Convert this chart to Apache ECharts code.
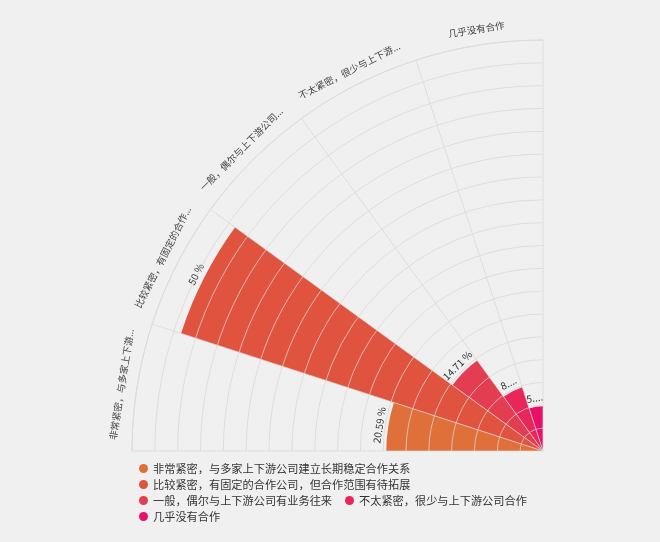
<!DOCTYPE html>
<html>
<head>
<meta charset="utf-8">
<script src="https://cdn.jsdelivr.net/npm/echarts@6/dist/echarts.min.js"></script>
<style>
html,body{margin:0;padding:0;background:#f0f0f0;}
#main{width:660px;height:542px;}
</style>
</head>
<body>
<div id="main"></div>
<script>
// ---- data ----
const categories = [
  '非常紧密，与多家上下游公司建立长期稳定合作关系',
  '比较紧密，有固定的合作公司，但合作范围有待拓展',
  '一般，偶尔与上下游公司有业务往来',
  '不太紧密，很少与上下游公司合作',
  '几乎没有合作'
];
const percents = [20.59, 50, 14.71, 8.82, 5.88];
const colors = ['#E0703A', '#E0533F', '#E23D50', '#E8265A', '#EA0F6B'];
const radiusMax = 54;
const radiusInterval = 3;

const FONT = '"Noto Sans CJK SC", "Noto Sans", sans-serif';
const polarRadius = 411;
const valueFontSize = 10;

const measureCtx = document.createElement('canvas').getContext('2d');
measureCtx.font = valueFontSize + 'px ' + FONT;

function valueLabel(v) {
  const full = v + ' %';
  const arc = v / radiusMax * polarRadius * Math.PI / 2 / categories.length;
  if (measureCtx.measureText(full).width <= arc * 1.05) return full;
  return String(v).slice(0, 2) + '...';
}

const series = categories.map((name, i) => {
  const data = categories.map((_, j) => (j === i ? percents[i] : '-'));
  return {
    type: 'bar',
    name: name,
    coordinateSystem: 'polar',
    stack: 'total',
    barCategoryGap: '0%',
    data: data,
    itemStyle: { color: colors[i] },
    label: {
      show: true,
      position: 'end',
      rotate: 'tangential',
      distance: 4,
      formatter: p => valueLabel(p.value),
      fontSize: valueFontSize,
      color: '#333',
      fontFamily: FONT
    },
    z: 2
  };
});

// invisible ring carrying the rotated category labels
series.push({
  type: 'bar',
  name: 'axisLabels',
  coordinateSystem: 'polar',
  barGap: '-100%',
  barCategoryGap: '0%',
  silent: true,
  data: categories.map(() => radiusMax),
  itemStyle: { color: 'rgba(0,0,0,0)' },
  label: {
    show: true,
    position: 'end',
    rotate: 'tangential',
    distance: 11,
    fontSize: 9.5,
    color: '#444',
    fontFamily: FONT,
    formatter: p => p.name.length > 11 ? p.name.slice(0, 11) + '...' : p.name
  },
  z: 1
});

const chart = echarts.init(document.getElementById('main'));
chart.setOption({
  backgroundColor: '#f0f0f0',
  animation: false,
  polar: { center: [543, 451], radius: polarRadius },
  angleAxis: {
    type: 'category',
    data: categories,
    startAngle: 180,
    endAngle: 90,
    clockwise: true,
    z: 10,
    axisLine: { show: true, lineStyle: { color: '#dcdcdc', width: 1 } },
    axisTick: { show: false },
    axisLabel: { show: false },
    splitLine: { show: true, lineStyle: { color: 'rgba(215,215,215,0.75)', width: 1 } }
  },
  radiusAxis: {
    type: 'value',
    min: 0,
    max: radiusMax,
    interval: radiusInterval,
    z: 10,
    axisLine: { show: false },
    axisTick: { show: false },
    axisLabel: { show: false },
    splitLine: { show: true, lineStyle: { color: 'rgba(215,215,215,0.75)', width: 1 } }
  },
  legend: {
    data: categories,
    left: 134,
    top: 457,
    width: 400,
    icon: 'circle',
    itemWidth: 9,
    itemHeight: 9,
    itemGap: 3,
    textStyle: { fontSize: 11.2, color: '#333', fontFamily: FONT, lineHeight: 13, padding: [0, 10, 0, 0] }
  },
  series: series
});
</script>
</body>
</html>
